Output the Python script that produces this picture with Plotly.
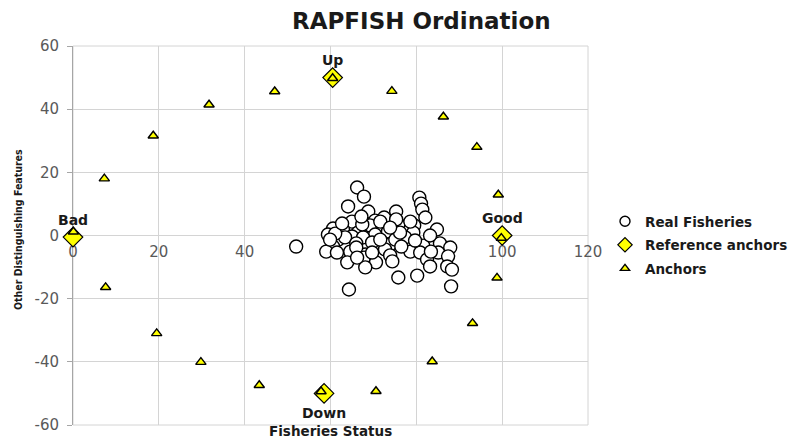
import plotly.graph_objects as go

# ---------------- data ----------------
real_x = [66.2, 67.8, 64.1, 68.8, 80.7, 81.1, 81.4, 82.1, 75.3, 72.5, 70.4, 65.0, 75.8, 79.5,
          84.8, 60.6, 69.2, 66.4, 62.9, 59.4, 61.8, 70.4, 73.4, 79.3, 77.4, 65.0, 67.6, 73.9,
          81.6, 85.5, 87.9, 60.6, 64.6, 68.1, 72.7, 78.6, 80.9, 85.1, 87.4, 63.9, 67.8, 70.6,
          68.1, 82.5, 83.2, 87.2, 88.3, 75.8, 80.2, 88.1, 64.3, 52.0, 71.6, 75.3, 67.4, 63.4,
          59.0, 61.5, 66.0, 69.7, 71.6, 75.1, 76.2, 78.6, 83.2, 61.1, 62.7, 67.2, 73.9, 66.0,
          69.7, 73.9, 76.5, 79.7, 83.4, 66.2, 74.4, 59.9]
real_y = [15.2, 12.3, 9.2, 7.6, 12.0, 10.1, 8.2, 5.7, 7.6, 5.7, 4.7, 4.4, 3.5, 3.2,
          1.9, 2.2, 3.2, 0.9, 1.9, 0.3, -1.3, 0.3, 1.3, 0.9, -0.6, -0.3, -0.6, -2.8,
          -3.2, -2.5, -3.8, -3.5, -5.1, -6.0, -4.4, -5.1, -5.4, -5.4, -6.6, -8.5, -7.0, -8.5,
          -10.1, -7.6, -9.8, -9.8, -10.8, -13.3, -12.7, -16.1, -17.1, -3.5, 4.4, 5.1, 3.5, -0.6,
          -5.1, -5.4, -2.5, -2.2, -1.3, -1.3, 0.9, 4.4, 0.0, 0.6, 3.8, 6.0, 2.5, -3.8,
          -5.4, -6.3, -3.5, -1.6, -5.1, -7.0, -8.2, -1.3]

ref_labels = ["Bad", "Up", "Good", "Down"]
ref_x = [0.0, 60.5, 100.0, 58.5]
ref_y = [-0.5, 50.0, 0.0, -50.0]

anchor_x = [0.1, 7.3, 18.7, 31.7, 47.0, 60.5, 74.3, 86.3, 94.1, 99.1, 99.8, 98.8, 93.1, 83.7,
            70.6, 57.8, 43.4, 29.8, 19.5, 7.6]
anchor_y = [1.2, 18.0, 31.6, 41.4, 45.6, 49.8, 45.7, 37.6, 28.0, 12.9, -0.8, -13.4, -27.8, -39.9,
            -49.3, -49.4, -47.4, -40.1, -31.0, -16.4]

x_ticks = [0, 20, 40, 60, 80, 100, 120]
x_tick_text = ["0", "20", "40", "60", "80", "100", "120"]
y_ticks = [-60, -40, -20, 0, 20, 40, 60]
y_tick_text = ["-60", "-40", "-20", "0", "20", "40", "60"]

# ---------------- figure ----------------
FONT = "DejaVu Sans"
fig = go.Figure()

circle_marker = dict(symbol="circle", color="white", line=dict(color="black", width=1.4))
diamond_marker = dict(symbol="diamond", color="#FFFF00", line=dict(color="black", width=1.2))
tri_marker = dict(symbol="triangle-up", color="#FFFF00", line=dict(color="black", width=1.4))

fig.add_trace(go.Scatter(x=real_x, y=real_y, mode="markers", name="Real Fisheries",
                         showlegend=False, cliponaxis=False, marker=dict(size=13, **circle_marker)))
fig.add_trace(go.Scatter(x=ref_x, y=ref_y, mode="markers", name="Reference anchors",
                         showlegend=False, cliponaxis=False, marker=dict(size=15, **diamond_marker)))
fig.add_trace(go.Scatter(x=anchor_x, y=anchor_y, mode="markers", name="Anchors",
                         showlegend=False, cliponaxis=False, marker=dict(size=9, **tri_marker)))

# legend-only entries (smaller symbols, as in the reference legend)
fig.add_trace(go.Scatter(x=[None], y=[None], mode="markers", name="Real Fisheries",
                         legendgroup="a", marker=dict(size=10, **circle_marker)))
fig.add_trace(go.Scatter(x=[None], y=[None], mode="markers", name="Reference anchors",
                         legendgroup="b", marker=dict(size=11, **diamond_marker)))
fig.add_trace(go.Scatter(x=[None], y=[None], mode="markers", name="Anchors",
                         legendgroup="c", marker=dict(size=8, **tri_marker)))

# labels on reference anchors
shifts = {"Bad": 17, "Up": 18, "Good": 18, "Down": -20}
for lab, xv, yv in zip(ref_labels, ref_x, ref_y):
    fig.add_annotation(x=xv, y=yv, text="<b>%s</b>" % lab, showarrow=False,
                       yshift=shifts[lab], font=dict(family=FONT, size=14, color="#1a1a1a"))

grid = "#d4d4d4"
fig.update_layout(
    width=794, height=433,
    margin=dict(l=65, r=214, t=38, b=16, autoexpand=False),
    paper_bgcolor="white", plot_bgcolor="white",
    showlegend=True,
    legend=dict(x=(597 - 65) / 515, y=(425 - 245) / 379, xanchor="left", yanchor="middle",
                font=dict(family=FONT, size=13.5, color="#1a1a1a", weight="bold"),
                tracegroupgap=3, bgcolor="rgba(0,0,0,0)"),
    xaxis=dict(range=[0, 120], tickvals=x_ticks, ticktext=x_tick_text,
               showgrid=True, gridcolor=grid, gridwidth=1,
               zeroline=False, showline=False, anchor="free", position=0.5,
               ticks="", ticklabelstandoff=5, automargin=False,
               tickfont=dict(family=FONT, size=15, color="#595959"),
               layer="below traces", fixedrange=True),
    yaxis=dict(range=[-60, 60], tickvals=y_ticks, ticktext=y_tick_text,
               showgrid=True, gridcolor=grid, gridwidth=1,
               zeroline=False, showline=True, linecolor="#a6a6a6", linewidth=1,
               ticks="outside", ticklen=5, tickcolor="#a6a6a6", automargin=False,
               ticklabelstandoff=5,
               tickfont=dict(family=FONT, size=15, color="#595959"),
               layer="below traces", fixedrange=True),
)

fig.add_shape(type="rect", xref="paper", yref="paper", x0=0, y0=0, x1=1, y1=1,
              line=dict(color=grid, width=1), layer="below")

fig.add_annotation(text="<b>RAPFISH Ordination</b>", xref="paper", yref="paper",
                   x=(421 - 73) / 515, y=1 + (46 - 21) / 379, showarrow=False,
                   xanchor="center", yanchor="middle",
                   font=dict(family=FONT, size=23, color="#1a1a1a"))
fig.add_annotation(text="<b>Fisheries Status</b>", xref="paper", yref="paper",
                   x=0.5, y=-16 / 379, showarrow=False,
                   xanchor="center", yanchor="bottom",
                   font=dict(family=FONT, size=13.5, color="#1a1a1a"))
fig.add_annotation(text="<b>Other Distinguishing Features</b>", xref="paper", yref="paper",
                   x=-(73 - 18) / 515, y=(425 - 230) / 379, showarrow=False, textangle=-90,
                   xanchor="center", yanchor="middle",
                   font=dict(family="DejaVu Sans Condensed, DejaVu Sans, sans-serif",
                             size=10.5, color="#1a1a1a"))

fig.write_html("out.html")
